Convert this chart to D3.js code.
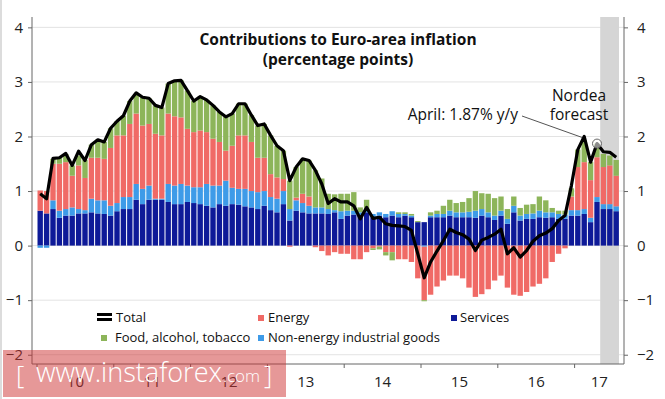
<!DOCTYPE html>
<meta charset="utf-8">
<body style="margin:0;background:#fff">
<script src="https://d3js.org/d3.v7.min.js"></script>
<script>

// months Jan 2010 .. Jul 2017, contributions in percentage points
var services = [0.64,0.59,0.67,0.51,0.55,0.55,0.59,0.59,0.61,0.59,0.58,0.55,
  0.63,0.67,0.67,0.84,0.76,0.84,0.84,0.84,0.80,0.76,0.76,0.80,
  0.78,0.76,0.73,0.70,0.76,0.73,0.76,0.75,0.72,0.70,0.67,0.73,
  0.65,0.61,0.76,0.46,0.64,0.61,0.59,0.59,0.59,0.58,0.61,0.49,
  0.55,0.57,0.55,0.61,0.52,0.55,0.52,0.55,0.52,0.55,0.52,0.43,
  0.43,0.52,0.52,0.52,0.55,0.52,0.52,0.52,0.51,0.55,0.52,0.47,
  0.55,0.40,0.61,0.46,0.49,0.49,0.52,0.51,0.52,0.49,0.49,0.55,
  0.55,0.58,0.43,0.80,0.67,0.67,0.63];
var neig = [-0.04,-0.04,0.16,0.13,0.12,0.15,0.08,0.06,0.25,0.24,0.25,0.18,
  0.15,0.22,0.22,0.29,0.28,0.26,0.02,0.02,0.33,0.34,0.37,0.30,
  0.29,0.31,0.40,0.40,0.34,0.46,0.30,0.29,0.32,0.30,0.31,0.27,
  0.24,0.25,0.24,0.21,0.19,0.17,0.14,0.11,0.11,0.09,0.04,0.14,
  0.09,0.07,0.06,0.04,0.06,0.06,0.06,0.08,0.06,0.03,0.03,0.00,
  -0.02,0.03,0.06,0.06,0.09,0.09,0.09,0.10,0.13,0.12,0.09,0.08,
  0.09,0.09,0.12,0.09,0.09,0.10,0.12,0.10,0.09,0.09,0.08,0.10,
  0.10,0.09,0.08,0.09,0.09,0.09,0.09];
var energy = [0.37,0.41,0.67,0.86,0.86,0.58,0.80,0.59,0.75,0.78,0.76,1.06,
  1.24,1.13,1.34,1.29,1.16,1.13,1.19,1.16,1.29,1.27,1.22,1.04,
  1.01,1.04,0.95,0.86,0.80,0.55,0.77,0.98,0.98,0.90,0.63,0.61,
  0.42,0.39,0.22,-0.02,0.05,0.17,0.17,-0.03,-0.10,-0.18,-0.12,-0.15,
  -0.15,-0.25,-0.25,-0.12,-0.05,-0.02,-0.12,-0.12,-0.25,-0.25,-0.30,-0.60,
  -0.98,-0.90,-0.75,-0.64,-0.55,-0.55,-0.60,-0.77,-0.94,-0.89,-0.80,-0.64,
  -0.55,-0.77,-0.90,-0.92,-0.85,-0.75,-0.70,-0.60,-0.30,-0.15,-0.05,0.25,
  0.79,0.86,0.69,0.73,0.68,0.71,0.56];
var food = [0.00,0.00,0.09,0.11,0.15,0.19,0.18,0.33,0.24,0.33,0.31,0.36,
  0.26,0.36,0.42,0.36,0.52,0.47,0.52,0.51,0.55,0.65,0.68,0.70,
  0.57,0.62,0.59,0.61,0.55,0.62,0.59,0.58,0.58,0.49,0.59,0.62,
  0.71,0.58,0.52,0.52,0.56,0.64,0.66,0.68,0.53,0.28,0.29,0.32,
  0.31,0.34,0.09,0.19,-0.03,-0.05,-0.06,-0.15,0.03,0.03,0.03,0.02,
  -0.02,0.06,0.06,0.15,0.20,0.17,0.19,0.25,0.36,0.29,0.34,0.32,
  0.26,0.18,0.17,0.14,0.17,0.17,0.26,0.22,0.08,0.06,0.07,0.15,
  0.32,0.40,0.33,0.25,0.24,0.18,0.29];
var total = [0.95,0.86,1.60,1.61,1.69,1.47,1.73,1.56,1.85,1.94,1.90,2.15,
  2.28,2.38,2.65,2.80,2.72,2.70,2.57,2.53,2.97,3.02,3.03,2.84,
  2.65,2.73,2.67,2.57,2.45,2.36,2.42,2.60,2.60,2.39,2.20,2.23,
  2.02,1.83,1.74,1.19,1.44,1.59,1.56,1.38,1.13,0.77,0.86,0.80,
  0.80,0.73,0.49,0.70,0.50,0.52,0.40,0.37,0.36,0.35,0.28,-0.15,
  -0.59,-0.30,-0.10,0.09,0.30,0.24,0.20,0.12,-0.09,0.10,0.15,0.21,
  0.30,-0.15,-0.04,-0.21,-0.09,0.08,0.18,0.23,0.31,0.46,0.55,1.10,
  1.76,2.00,1.53,1.87,1.72,1.71,1.62];
var years = ['10','11','12','13','14','15','16','17'];
var yTicks = [-2,-1,0,1,2,3,4];
var forecastFrom = 88; // May 2017
var aprilIdx = 87;

var W = 665, H = 399;
var L = 32, R = 624, T = 17, B = 364;
var FONT = "'Open Sans', sans-serif";

var svg = d3.select('body').append('svg')
  .attr('width', W).attr('height', H)
  .style('font-family', FONT);

var n = total.length;
var x = d3.scaleBand().domain(d3.range(n)).range([37, 37 + 6.4*n]).paddingInner(0.16).paddingOuter(0.08);
var y = d3.scaleLinear().domain([-2.17, 4.19]).range([B, T]);

// left edge frame
svg.append('rect').attr('x',0).attr('y',0).attr('width',2).attr('height',H).attr('fill','#dcdcdc');

// gridlines
svg.append('g').selectAll('line').data(yTicks).enter().append('line')
  .attr('x1', L).attr('x2', R)
  .attr('y1', d => y(d)).attr('y2', d => y(d))
  .attr('stroke', '#e3e3e3').attr('stroke-width', 1);

// forecast band
var step = x.step();
var bandX = x(forecastFrom) - (step - x.bandwidth())/2;
svg.append('rect')
  .attr('x', bandX)
  .attr('y', T)
  .attr('width', R - 5 - bandX)
  .attr('height', B - T)
  .attr('fill', '#d5d5d5');

// stacked bars
var comps = [
  {name: 'services', vals: services, c: '#0e1a98'},
  {name: 'neig', vals: neig, c: '#3e9be8'},
  {name: 'energy', vals: energy, c: '#f06a66'},
  {name: 'food', vals: food, c: '#8db55a'}
];
var gb = svg.append('g');
d3.range(n).forEach(i => {
  var pos = 0, neg = 0;
  comps.forEach(cp => {
    var v = cp.vals[i];
    if (v === 0) return;
    var y0, y1;
    if (v > 0) { y0 = pos; y1 = pos + v; pos = y1; }
    else { y0 = neg; y1 = neg + v; neg = y1; }
    gb.append('rect')
      .attr('x', x(i))
      .attr('width', x.bandwidth())
      .attr('y', y(Math.max(y0, y1)))
      .attr('height', Math.abs(y(y0) - y(y1)))
      .attr('fill', cp.c);
  });
});

// total line
var line = d3.line().x((d, i) => x(i) + x.bandwidth()/2).y(d => y(d));
svg.append('path').datum(total)
  .attr('d', line)
  .attr('fill', 'none')
  .attr('stroke', '#000')
  .attr('stroke-width', 3.2)
  .attr('stroke-linejoin', 'round');

// April marker + annotation
var ax = x(aprilIdx) + x.bandwidth()/2, ay = y(total[aprilIdx]);
svg.append('circle').attr('cx', ax).attr('cy', ay).attr('r', 4.5)
  .attr('fill', 'rgba(255,255,255,0.55)').attr('stroke', '#666').attr('stroke-width', 1);
svg.append('line')
  .attr('x1', 522).attr('y1', 116)
  .attr('x2', x(85) + x.bandwidth()/2 - 2).attr('y2', y(total[85]) + 1)
  .attr('stroke', '#555').attr('stroke-width', 1);
svg.append('text').attr('x', 518).attr('y', 120).attr('text-anchor', 'end')
  .attr('font-size', 15.5).attr('fill', '#111').text('April: 1.87% y/y');
svg.append('text').attr('x', 579).attr('y', 101).attr('text-anchor', 'middle')
  .attr('font-size', 15.5).attr('fill', '#111').text('Nordea');
svg.append('text').attr('x', 579).attr('y', 120).attr('text-anchor', 'middle')
  .attr('font-size', 15.5).attr('fill', '#111').text('forecast');

// title
svg.append('text').attr('x', 338).attr('y', 45).attr('text-anchor', 'middle')
  .attr('font-size', 15.5).attr('font-weight', 'bold').attr('fill', '#111')
  .text('Contributions to Euro-area inflation');
svg.append('text').attr('x', 338).attr('y', 65).attr('text-anchor', 'middle')
  .attr('font-size', 15.5).attr('font-weight', 'bold').attr('fill', '#111')
  .text('(percentage points)');

// axes
var axisCol = '#666';
var fmt = d3.format('d');
var gl = svg.append('g').attr('transform', `translate(${L},0)`)
  .call(d3.axisLeft(y).tickValues(yTicks).tickFormat(fmt).tickSize(4).tickPadding(5).tickSizeOuter(0));
var gr = svg.append('g').attr('transform', `translate(${R},0)`)
  .call(d3.axisRight(y).tickValues(yTicks).tickFormat(fmt).tickSize(4).tickPadding(9).tickSizeOuter(0));
[gl, gr].forEach(g => {
  g.select('.domain').attr('stroke', axisCol).attr('d', `M0,${T}V${B}`);
  g.selectAll('.tick line').attr('stroke', axisCol);
  g.selectAll('.tick text').attr('font-size', 15).attr('fill', '#222').attr('font-family', FONT);
});

var yearStart = years.map((d, k) => 37 + 76.8*k);
svg.append('line').attr('x1', L).attr('x2', R).attr('y1', B).attr('y2', B).attr('stroke', axisCol);
svg.append('g').selectAll('line').data(yearStart).enter().append('line')
  .attr('x1', d => d).attr('x2', d => d).attr('y1', B).attr('y2', B + 4).attr('stroke', axisCol);
svg.append('g').selectAll('text').data(years).enter().append('text')
  .attr('x', (d, k) => (yearStart[k] + Math.min(yearStart[k] + 76.8, R)) / 2)
  .attr('y', 387).attr('text-anchor', 'middle')
  .attr('font-size', 15).attr('fill', '#222').text(d => d);

// legend
var lg = svg.append('g').attr('font-size', 13).attr('fill', '#111');
lg.append('rect').attr('x', 97).attr('y', 313).attr('width', 15).attr('height', 3).attr('fill', '#000');
lg.append('rect').attr('x', 97).attr('y', 318).attr('width', 15).attr('height', 3).attr('fill', '#000');
lg.append('text').attr('x', 116).attr('y', 322).text('Total');
lg.append('rect').attr('x', 258).attr('y', 315).attr('width', 6).attr('height', 6).attr('fill', comps[2].c);
lg.append('text').attr('x', 268).attr('y', 322).text('Energy');
lg.append('rect').attr('x', 451).attr('y', 315).attr('width', 6).attr('height', 6).attr('fill', comps[0].c);
lg.append('text').attr('x', 460).attr('y', 322).text('Services');
lg.append('rect').attr('x', 101).attr('y', 335).attr('width', 6).attr('height', 6).attr('fill', comps[3].c);
lg.append('text').attr('x', 115).attr('y', 342).text('Food, alcohol, tobacco');
lg.append('rect').attr('x', 258).attr('y', 335).attr('width', 6).attr('height', 6).attr('fill', comps[1].c);
lg.append('text').attr('x', 268).attr('y', 342).text('Non-energy industrial goods');

// watermark
svg.append('rect').attr('x', 3).attr('y', 350).attr('width', 283).attr('height', 47)
  .attr('fill', '#cd3232').attr('opacity', 0.5);
var wm = svg.append('g').attr('fill', '#fff').attr('font-weight', 300);
wm.append('text').attr('x', 16).attr('y', 384).attr('font-size', 26).text('[');
var main = wm.append('text').attr('x', 36).attr('y', 382).attr('font-size', 29).text('www.instaforex');
var fs = 29 * 186 / main.node().getComputedTextLength();
main.attr('font-size', fs);
var mw = main.node().getComputedTextLength();
wm.append('text').attr('x', 37 + mw).attr('y', 382).attr('font-size', 17).text('.com');
wm.append('text').attr('x', 264).attr('y', 384).attr('font-size', 26).text(']');

</script>
</body>
